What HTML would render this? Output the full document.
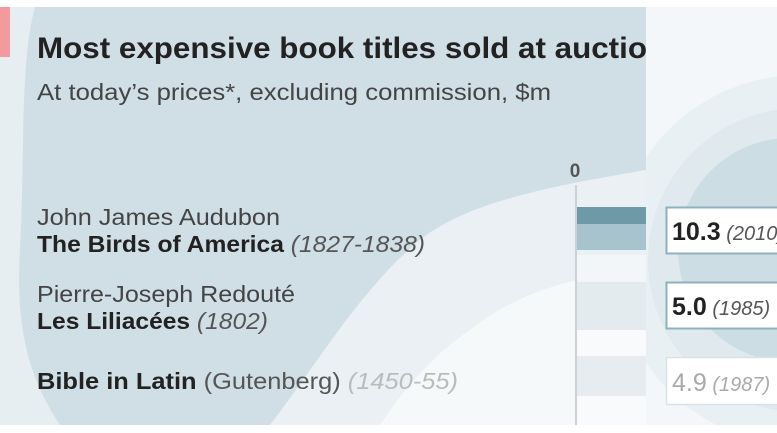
<!DOCTYPE html>
<html><head><meta charset="utf-8"><style>
html,body{margin:0;padding:0;width:777px;height:433px;overflow:hidden;background:#fff}
svg{display:block}
text{font-family:"Liberation Sans",sans-serif}
</style></head><body>
<svg width="777" height="433" viewBox="0 0 777 433">
<defs><clipPath id="r"><rect x="646" y="7" width="131" height="418"/></clipPath></defs>
<rect x="0" y="7" width="646" height="418" fill="#e6eef2"/>
<path d="M35,7 L646,7 L646,170 C560,185 470,200 420,240 C360,290 320,360 270,425 L60,425 C30,380 15,330 20,250 C25,150 20,60 35,7 Z" fill="#d0dfe6"/>
<path d="M420,240 C470,200 560,185 646,170 L646,425 L270,425 C320,360 360,290 420,240Z" fill="#eaf0f3"/>
<path d="M470,330 C520,290 580,275 646,270 L646,425 L380,425 C410,380 440,350 470,330Z" fill="#f6f9fa"/>
<rect x="0" y="7" width="10" height="50" fill="#f39a9c"/>
<g clip-path="url(#r)">
<rect x="646" y="7" width="131" height="418" fill="#f3f7f9"/>
<circle cx="800" cy="260" r="185" fill="#e9f0f3"/>
<circle cx="800" cy="260" r="152" fill="#dfe9ee"/>
<circle cx="790" cy="250" r="112" fill="#cddde4"/>
</g>
<rect x="577" y="255" width="69" height="27" fill="#f3f6f8"/>
<rect x="577" y="282" width="69" height="48" fill="#e4ebee"/>
<rect x="577" y="330" width="69" height="26" fill="#f8fafb"/>
<rect x="577" y="356" width="69" height="40" fill="#e6ecef"/>
<rect x="577" y="396" width="69" height="29" fill="#f8fafb"/>
<rect x="577" y="207" width="69" height="17" fill="#6e9aa8"/>
<rect x="577" y="224" width="69" height="26" fill="#a7c3cd"/>
<rect x="575" y="185" width="2" height="240" fill="#c9d2d6"/>
<text x="575" y="177" font-size="19" font-weight="bold" fill="#555" text-anchor="middle">0</text>
<text x="37" y="58" font-size="30" font-weight="bold" fill="#222" textLength="610" lengthAdjust="spacingAndGlyphs">Most expensive book titles sold at auctio</text>
<text x="37" y="100" font-size="23" fill="#444" textLength="514" lengthAdjust="spacingAndGlyphs">At today’s prices*, excluding commission, $m</text>
<text x="37" y="225" font-size="23" fill="#444" textLength="243" lengthAdjust="spacingAndGlyphs">John James Audubon</text>
<text x="37" y="252" font-size="23" fill="#222" textLength="388" lengthAdjust="spacingAndGlyphs"><tspan font-weight="bold">The Birds of America</tspan><tspan font-style="italic" fill="#555"> (1827-1838)</tspan></text>
<text x="37" y="302" font-size="23" fill="#444" textLength="258" lengthAdjust="spacingAndGlyphs">Pierre-Joseph Redouté</text>
<text x="37" y="329" font-size="23" fill="#222" textLength="231" lengthAdjust="spacingAndGlyphs"><tspan font-weight="bold">Les Liliacées</tspan><tspan font-style="italic" fill="#555"> (1802)</tspan></text>
<text x="37" y="389" font-size="23" fill="#222" textLength="421" lengthAdjust="spacingAndGlyphs"><tspan font-weight="bold">Bible in Latin</tspan><tspan fill="#555"> (Gutenberg)</tspan><tspan font-style="italic" fill="#bbb"> (1450-55)</tspan></text>
<rect x="666.5" y="207.5" width="120" height="46" fill="#fff" stroke="#8fb0bd" stroke-width="2"/>
<rect x="666.5" y="282.5" width="120" height="46" fill="#fff" stroke="#8fb0bd" stroke-width="2"/>
<rect x="666.5" y="357.5" width="120" height="47" fill="#fff" stroke="#d8e3e8" stroke-width="1.5"/>
<text x="672" y="240" font-size="25" fill="#222"><tspan font-weight="bold">10.3</tspan><tspan font-style="italic" font-size="20" fill="#555"> (2010)</tspan></text>
<text x="672" y="315" font-size="25" fill="#222"><tspan font-weight="bold">5.0</tspan><tspan font-style="italic" font-size="20" fill="#555"> (1985)</tspan></text>
<text x="672" y="391" font-size="25" fill="#aaa"><tspan>4.9</tspan><tspan font-style="italic" font-size="20"> (1987)</tspan></text>
</svg>
</body></html>
